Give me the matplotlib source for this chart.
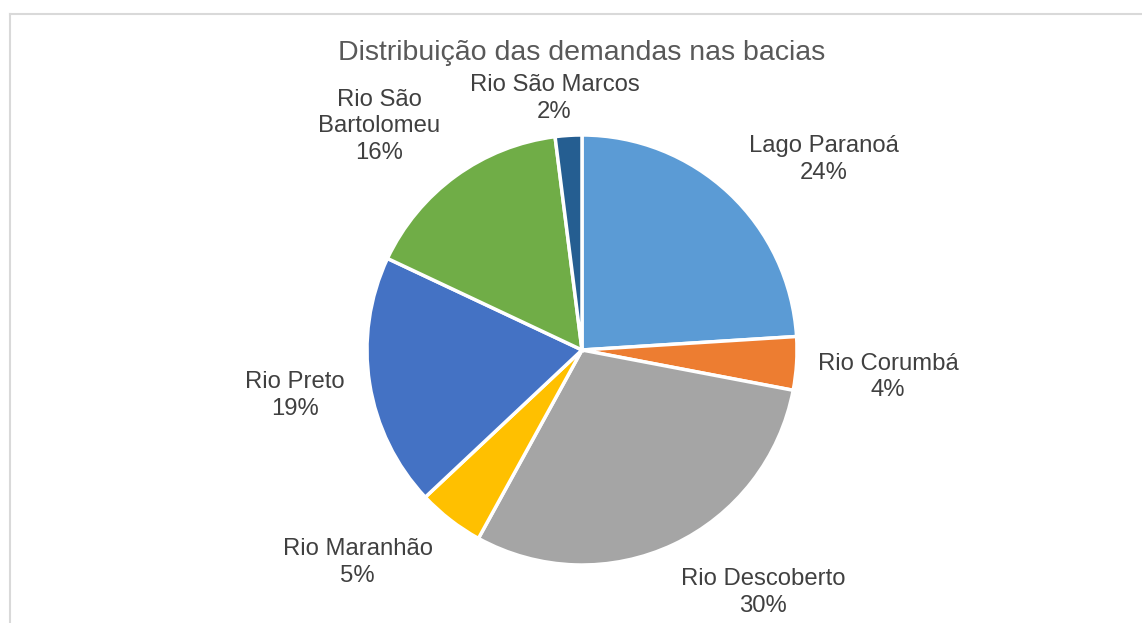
import matplotlib
matplotlib.use("Agg")
import matplotlib.pyplot as plt
from matplotlib.lines import Line2D

# Share of water demand per river basin (%)
basins = ["Lago Paranoá", "Rio Corumbá", "Rio Descoberto", "Rio Maranhão",
          "Rio Preto", "Rio São\nBartolomeu", "Rio São Marcos"]
shares = [24, 4, 30, 5, 19, 16, 2]
colors = ["#5B9BD5", "#ED7D31", "#A5A5A5", "#FFC000",
          "#4472C4", "#70AD47", "#255E91"]
title = "Distribuição das demandas nas bacias"

plt.rcParams["font.family"] = ["Liberation Sans", "DejaVu Sans"]

W, H, DPI = 1142, 623, 100
fig = plt.figure(figsize=(W / DPI, H / DPI), dpi=DPI)
fig.patch.set_facecolor("white")

# chart-area frame (top and left edges visible)
fig.add_artist(Line2D([9.5 / W, 1.0], [1 - 13.5 / H] * 2, transform=fig.transFigure,
                      color="#D9D9D9", lw=1.5))
fig.add_artist(Line2D([9.5 / W] * 2, [0.0, 1 - 13.5 / H], transform=fig.transFigure,
                      color="#D9D9D9", lw=1.5))

ax = fig.add_axes([0, 0, 1, 1])
cx, cy, R = 582, 350, 215  # pie centre and radius in pixels

ax.pie(shares, colors=colors, startangle=90, counterclock=False, radius=1.0,
       wedgeprops=dict(edgecolor="white", linewidth=2.5))
ax.set_xlim(-cx / R, (W - cx) / R)
ax.set_ylim((cy - H) / R, cy / R)
ax.set_aspect("auto")
ax.axis("off")

# label anchor points, in pie-radius units
label_pos = [(1.126, 0.885), (1.423, -0.126), (0.842, -1.128), (-1.044, -0.987),
             (-1.335, -0.210), (-0.944, 1.040), (-0.128, 1.170)]
for name, val, (lx, ly) in zip(basins, shares, label_pos):
    ax.text(lx, ly, f"{name}\n{val}%", ha="center", va="center",
            fontsize=17.2, color="#404040", linespacing=1.28)

ax.text(0, (cy - 53) / R, title, ha="center", va="center",
        fontsize=20.5, color="#595959")

fig.savefig("out.png", dpi=DPI, facecolor="white")
